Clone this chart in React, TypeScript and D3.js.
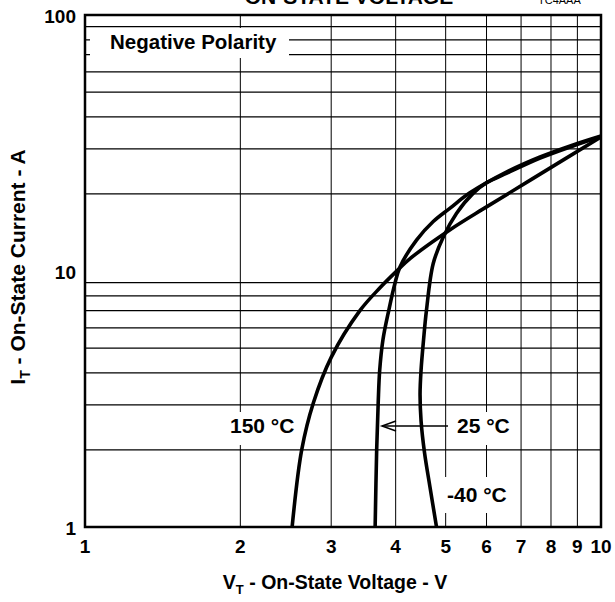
import React from "react";
import * as d3 from "d3";

// ---- data (V in volts, I in amperes) ----
const volts150 = [2.52, 2.63, 2.77, 3.0, 3.41, 3.73, 4.02, 4.27, 5.1, 6.0, 7.62, 10.0];
const amps150 = [1.0, 2.0, 3.05, 4.6, 7.0, 8.6, 10.0, 11.2, 14.5, 17.8, 23.9, 33.4];

const volts25 = [3.65, 3.675, 3.7, 3.725, 3.78, 3.88, 3.99, 4.08, 4.39, 4.73, 5.1, 5.57, 6.57, 7.62, 8.83, 10.0];
const amps25 = [1.0, 2.0, 3.05, 4.1, 5.4, 7.04, 9.0, 10.4, 13.2, 15.6, 17.6, 20.2, 24.4, 27.9, 31.1, 33.7];

const voltsM40 = [4.8, 4.66, 4.55, 4.48, 4.46, 4.48, 4.53, 4.59, 4.73, 4.95, 5.25, 5.65, 6.0, 6.57, 7.62, 8.83, 10.0];
const ampsM40 = [1.0, 1.44, 1.95, 2.6, 3.3, 4.1, 5.38, 7.04, 10.7, 13.6, 16.8, 20.1, 22.1, 24.1, 27.6, 30.8, 33.5];

const xTickValues = [1, 2, 3, 4, 5, 6, 7, 8, 9, 10];
const yTickValues = [1, 10, 100];
const xGridValues = [2, 3, 4, 5, 6, 7, 8, 9];
const yGridValues = [2, 3, 4, 5, 6, 7, 8, 9, 20, 30, 40, 50, 60, 70, 80, 90];

const FONT = "'Liberation Sans', Arial, Helvetica, sans-serif";

export default function App() {
  const W = 615;
  const H = 602;
  const x = d3.scaleLog().domain([1, 10]).range([85, 601]);
  const y = d3.scaleLog().domain([1, 100]).range([527, 15]);

  const mk = (vs: number[], is: number[]) =>
    d3
      .line<number>()
      .x((_, i) => x(vs[i]))
      .y((_, i) => y(is[i]))
      .curve(d3.curveCatmullRom.alpha(0.5))(vs) as string;

  const curves = [
    mk(volts150, amps150),
    mk(volts25, amps25),
    mk(voltsM40, ampsM40),
  ];

  return (
    <div style={{ position: "absolute", left: 0, top: 0, width: W, height: H, background: "#fff" }}>
      <svg width={W} height={H} style={{ display: "block" }} fontFamily={FONT}>
        <rect x={0} y={0} width={W} height={H} fill="#fff" />
        {/* title (cut off at the top, as in the reference) */}
        <text x={349} y={4} textAnchor="middle" fontSize={21} fontWeight="bold">
          ON-STATE VOLTAGE
        </text>
        <text x={538} y={4} fontSize={11}>
          TC4AAA
        </text>

        {/* grid */}
        {yGridValues.map((v) => (
          <line key={"h" + v} x1={x(1)} x2={x(10)} y1={y(v)} y2={y(v)} stroke="#000" strokeWidth={1.3} />
        ))}
        {xGridValues.map((v) => (
          <line key={"v" + v} x1={x(v)} x2={x(v)} y1={y(1)} y2={y(100)} stroke="#000" strokeWidth={1} />
        ))}

        {/* label backgrounds */}
        <rect x={90} y={28} width={199} height={30} fill="#fff" />
        <rect x={227} y={412} width={70} height={33} fill="#fff" />
        <rect x={452} y={412} width={62} height={33} fill="#fff" />
        <rect x={443} y={477} width={70} height={36} fill="#fff" />

        <text x={110} y={49} fontSize={20.5} fontWeight="bold">
          Negative Polarity
        </text>

        {/* curves */}
        {curves.map((d, i) => (
          <path key={i} d={d} fill="none" stroke="#000" strokeWidth={3.6} strokeLinejoin="round" />
        ))}

        {/* curve labels */}
        <text x={230} y={433} fontSize={21} fontWeight="bold">
          150 °C
        </text>
        <text x={457} y={433} fontSize={21} fontWeight="bold">
          25 °C
        </text>
        <text x={447} y={502} fontSize={21} fontWeight="bold">
          -40 °C
        </text>
        <line x1={448} x2={382} y1={426} y2={426} stroke="#000" strokeWidth={1.5} />
        <polyline points="396,421 382,426 396,431" fill="none" stroke="#000" strokeWidth={1.5} />

        {/* frame */}
        <rect x={x(1)} y={y(100)} width={x(10) - x(1)} height={y(1) - y(100)} fill="none" stroke="#000" strokeWidth={2.5} />

        {/* tick labels */}
        {xTickValues.map((v) => (
          <text key={"xt" + v} x={x(v)} y={553} textAnchor="middle" fontSize={19} fontWeight="bold">
            {v}
          </text>
        ))}
        {yTickValues.map((v) => (
          <text key={"yt" + v} x={76} y={y(v) + 8} textAnchor="end" fontSize={19} fontWeight="bold">
            {v}
          </text>
        ))}

        {/* axis titles */}
        <text x={335} y={589} textAnchor="middle" fontSize={19.5} fontWeight="bold">
          V<tspan fontSize={13} dy={5}>T</tspan>
          <tspan dy={-5}> - On-State Voltage - V</tspan>
        </text>
        <text transform="translate(25,267) rotate(-90)" textAnchor="middle" fontSize={21} fontWeight="bold">
          I<tspan fontSize={14} dy={5}>T</tspan>
          <tspan dy={-5}> - On-State Current - A</tspan>
        </text>
      </svg>
    </div>
  );
}
